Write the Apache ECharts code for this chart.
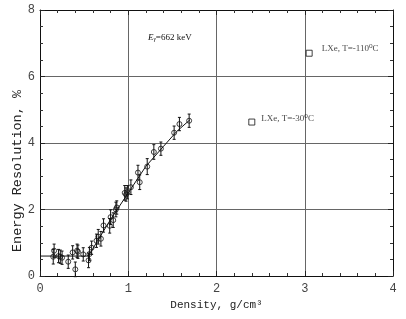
<!DOCTYPE html>
<html><head><meta charset="utf-8">
<script src="https://cdn.jsdelivr.net/npm/echarts@6/dist/echarts.min.js"></script>
<style>html,body{margin:0;padding:0;background:#fff}#c{width:406px;height:319px}</style>
</head><body><div id="c"></div>
<script>
var xTicks = [0, 1, 2, 3, 4];
var yTicks = [0, 2, 4, 6, 8];
var densX = [0.15,0.16,0.21,0.23,0.25,0.32,0.37,0.40,0.42,0.43,0.49,0.55,0.56,0.585,0.64,0.66,0.69,0.72,0.79,0.80,0.83,0.86,0.87,0.96,0.975,0.99,1.03,1.11,1.13,1.215,1.29,1.37,1.52,1.58,1.69];
var resY  = [0.58,0.76,0.60,0.58,0.55,0.43,0.71,0.20,0.76,0.73,0.65,0.47,0.66,0.85,1.06,1.18,1.12,1.52,1.51,1.77,1.68,2.00,2.06,2.50,2.45,2.52,2.67,3.11,2.82,3.29,3.73,3.83,4.31,4.57,4.67];
var resErr= [0.22,0.20,0.20,0.20,0.20,0.20,0.20,0.22,0.20,0.20,0.20,0.22,0.20,0.20,0.20,0.22,0.22,0.20,0.22,0.22,0.22,0.22,0.20,0.22,0.20,0.20,0.22,0.22,0.22,0.24,0.22,0.20,0.20,0.20,0.20];
var fitX = [0, 0.55, 0.65, 0.8, 1.0, 1.2, 1.4, 1.55, 1.7];
var fitY = [0.6, 0.6, 1.05, 1.7, 2.5, 3.3, 3.9, 4.35, 4.7];
var lxeX = [2.40, 3.05];
var lxeY = [4.63, 6.70];
var lxeLabels = ['LXe, T=-30\u2070C', 'LXe, T=-110\u2070C'];

var mono = 'Liberation Mono, DejaVu Sans Mono, monospace';
var serif = 'Liberation Serif, DejaVu Serif, serif';

var chart = echarts.init(document.getElementById('c'));
function xAx(pos, labels){
  return {type:'value', position:pos, min:xTicks[0], max:xTicks[xTicks.length-1], interval:1,
    axisLine:{show:true, onZero:false, lineStyle:{color:'#111', width:1}},
    axisTick:{show:true, inside:true, length:5, lineStyle:{color:'#222'}},
    minorTick:{show:true, splitNumber:5, length:3, lineStyle:{color:'#333'}},
    splitLine:{show:labels, lineStyle:{color:'#666', width:1}},
    axisLabel:{show:labels, color:'#444', fontFamily:mono, fontSize:12, margin:7},
    name: labels ? 'Density, g/cm\u00b3' : '', nameLocation:'middle', nameGap:22,
    nameTextStyle:{color:'#222', fontFamily:mono, fontSize:11}};
}
function yAx(pos, labels){
  return {type:'value', position:pos, min:yTicks[0], max:yTicks[yTicks.length-1], interval:2,
    axisLine:{show:true, onZero:false, lineStyle:{color:'#111', width:1}},
    axisTick:{show:true, inside:true, length:5, lineStyle:{color:'#222'}},
    minorTick:{show:true, splitNumber:4, length:3, lineStyle:{color:'#333'}},
    splitLine:{show:labels, lineStyle:{color:'#666', width:1}},
    axisLabel:{show:labels, color:'#444', fontFamily:mono, fontSize:12, margin:5}};
}
var pts = densX.map(function(x,i){return [x, resY[i], resErr[i]];});
chart.setOption({
  animation:false,
  grid:{left:40, right:13, top:10, bottom:43},
  xAxis:[xAx('bottom', true), xAx('top', false)],
  yAxis:[yAx('left', true), yAx('right', false)],
  graphic:[
   {type:'text', left:148, top:33, style:{
    text:'{e|E}{g|\u03b3}{n|=662 keV}',
    rich:{e:{fontFamily:serif, fontStyle:'italic', fontSize:9, fill:'#111'},
          g:{fontFamily:serif, fontStyle:'italic', fontSize:6, fill:'#111', padding:[4,0,0,0]},
          n:{fontFamily:serif, fontSize:9, fill:'#111'}}}},
   {type:'text', x:17, y:171, rotation:Math.PI/2, style:{
    text:'Energy Resolution, %', fontFamily:mono, fontSize:13.5, fill:'#222',
    textAlign:'center', textVerticalAlign:'middle'}}
  ],
  series:[
    {type:'line', data:fitX.map(function(x,i){return [x, fitY[i]];}), showSymbol:false, symbol:'none',
     lineStyle:{color:'#111', width:1}, z:3},
    {type:'custom', data:pts, z:4, renderItem:function(params, api){
      var x = api.value(0), y = api.value(1), e = api.value(2);
      var top = api.coord([x, y+e]), bot = api.coord([x, y-e]);
      var cw = 1.5;
      return {type:'group', children:[
        {type:'line', shape:{x1:top[0], y1:top[1], x2:bot[0], y2:bot[1]}, style:{stroke:'#111', lineWidth:1}},
        {type:'line', shape:{x1:top[0]-cw, y1:top[1], x2:top[0]+cw, y2:top[1]}, style:{stroke:'#111', lineWidth:1}},
        {type:'line', shape:{x1:bot[0]-cw, y1:bot[1], x2:bot[0]+cw, y2:bot[1]}, style:{stroke:'#111', lineWidth:1}}
      ]};
    }},
    {type:'scatter', data:pts.map(function(p){return [p[0], p[1]];}), symbol:'circle', symbolSize:5, z:5,
     itemStyle:{color:'rgba(255,255,255,0)', borderColor:'#111', borderWidth:1}},
    {type:'scatter', data:lxeX.map(function(x,i){return {value:[x, lxeY[i]], label:{formatter:lxeLabels[i], distance: i===1 ? 9 : 6, offset: i===1 ? [0,-5] : [0,-3]}};}),
     symbol:'rect', symbolSize:6, z:5,
     itemStyle:{color:'#fff', borderColor:'#111', borderWidth:1},
     label:{show:true, position:'right', color:'#111', fontFamily:serif, fontSize:9}}
  ]
});
</script></body></html>
